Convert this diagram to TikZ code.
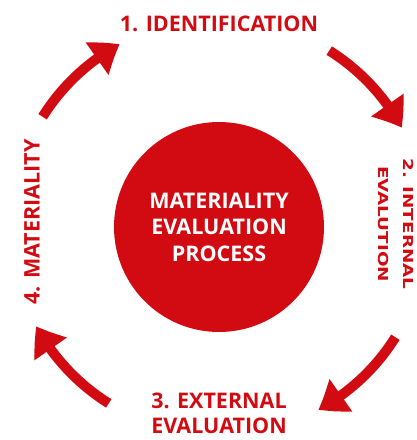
\documentclass[tikz,border=0pt]{standalone}
\usepackage{fontspec}
\usepackage{graphicx}
\setmainfont{Open Sans}
\newfontfamily\narrowfont{DejaVu Sans}
\newcommand{\widetext}[1]{\scalebox{1.34}[1]{#1}}
\usetikzlibrary{positioning}
\usetikzlibrary{arrows.meta,bending}
\definecolor{procred}{RGB}{210,10,17}

\begin{document}
\begin{tikzpicture}[x=1pt,y=1pt,align=center,
    every node/.style={inner sep=0,outer sep=0,text=procred,font=\bfseries\fontsize{21.5}{25}\selectfont},
    cyclearrow/.style={procred,line width=10pt,-{Triangle[width=38pt,length=27pt,bend]}}]
    \useasboundingbox (0,0) rectangle (416,440);
    \node (proc) [circle,fill=procred,minimum size=210pt,text=white,font=\bfseries\fontsize{21.5}{26.5}\selectfont] at (219,213) {MATERIALITY\\EVALUATION\\PROCESS};
    \node (ident) [above=90pt of proc] {1. IDENTIFICATION};
    \node (extern) [below=61pt of proc] {3. EXTERNAL\\EVALUATION};
    \node (intern) [rotate=-90,font=\narrowfont\bfseries\fontsize{13.7}{24.5}\selectfont] at (396,216) {\widetext{2. INTERNAL}\\\widetext{EVALUTION}};
    \node (materi) [rotate=90] at (32,218) {4. MATERIALITY};
    % arrows round the circle
    \foreach \a in {0,90,180,270} {
        \path (proc.center) ++(\a+58:208pt) coordinate (tail\a);
        \draw[cyclearrow] (tail\a) arc[start angle=\a+58, end angle=\a+28.5, radius=208pt];
    }
\end{tikzpicture}
\end{document}
